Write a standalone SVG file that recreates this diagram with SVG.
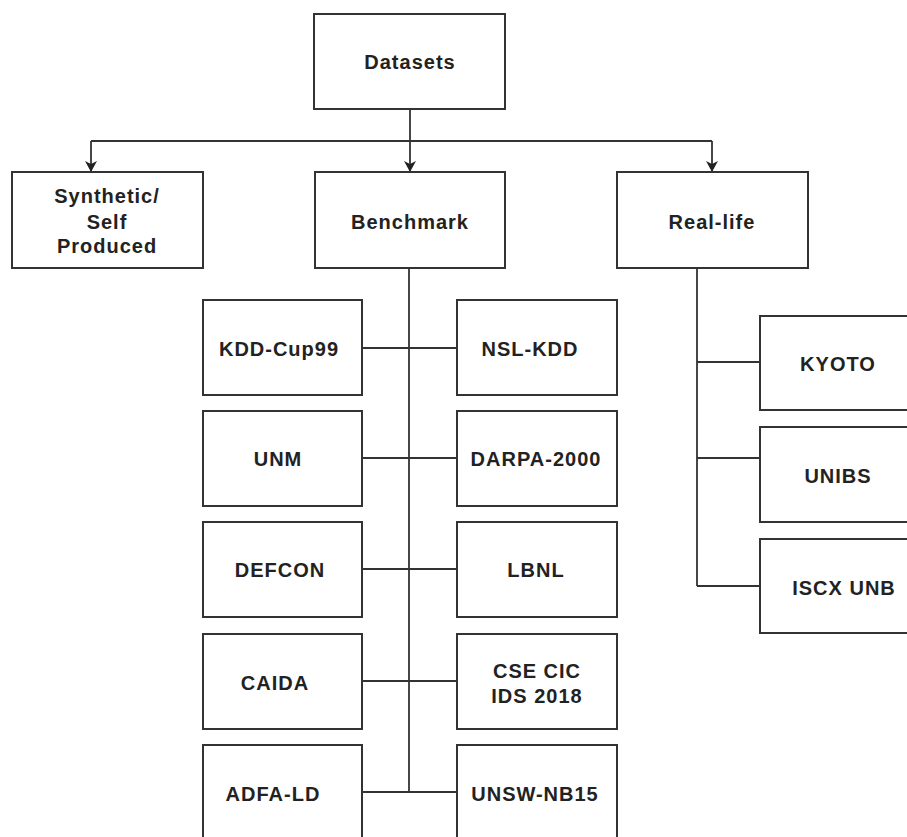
<svg xmlns="http://www.w3.org/2000/svg" width="907" height="837" viewBox="0 0 907 837">
<defs>
<marker id="arr" viewBox="0 0 11 12" refX="11" refY="6" markerWidth="11" markerHeight="12" markerUnits="userSpaceOnUse" orient="auto">
<path d="M0,0 L11,6 L0,12 L3,6 z" fill="#222"/>
</marker>
<style>
.box{fill:#fff;stroke:#333;stroke-width:2}
.t{font-family:"Liberation Sans",Arial,sans-serif;font-weight:bold;font-size:20px;letter-spacing:1px;fill:#222;text-anchor:middle}
.ln{fill:none;stroke:#333;stroke-width:1.8}
</style>
</defs>
<rect width="907" height="837" fill="#fff"/>
<g id="connectors">
<path class="ln" d="M410,109 V141"/>
<path class="ln" d="M91,141 H712"/>
<path class="ln" d="M91,141 V172" marker-end="url(#arr)"/>
<path class="ln" d="M410,141 V172" marker-end="url(#arr)"/>
<path class="ln" d="M712,141 V172" marker-end="url(#arr)"/>
<path class="ln" d="M409,268 V792"/>
<path class="ln" d="M362,348 H457"/>
<path class="ln" d="M362,458 H457"/>
<path class="ln" d="M362,569 H457"/>
<path class="ln" d="M362,681 H457"/>
<path class="ln" d="M362,792 H457"/>
<path class="ln" d="M697,268 V586"/>
<path class="ln" d="M697,362 H760"/>
<path class="ln" d="M697,458 H760"/>
<path class="ln" d="M697,586 H760"/>
</g>
<g id="datasets"><rect class="box" x="314" y="14" width="191" height="95"/><text class="t" x="410" y="69">Datasets</text></g>
<g id="synthetic"><rect class="box" x="12" y="172" width="191" height="96"/><text class="t" x="107" y="203">Synthetic/</text><text class="t" x="107" y="229">Self</text><text class="t" x="107" y="253">Produced</text></g>
<g id="benchmark"><rect class="box" x="315" y="172" width="190" height="96"/><text class="t" x="410" y="229">Benchmark</text></g>
<g id="reallife"><rect class="box" x="617" y="172" width="191" height="96"/><text class="t" x="712" y="229">Real-life</text></g>
<g id="kddcup99"><rect class="box" x="203" y="300" width="159" height="95"/><text class="t" x="279" y="356">KDD-Cup99</text></g>
<g id="nslkdd"><rect class="box" x="457" y="300" width="160" height="95"/><text class="t" x="530" y="356">NSL-KDD</text></g>
<g id="unm"><rect class="box" x="203" y="411" width="159" height="95"/><text class="t" x="278" y="466">UNM</text></g>
<g id="darpa2000"><rect class="box" x="457" y="411" width="160" height="95"/><text class="t" x="536" y="466">DARPA-2000</text></g>
<g id="defcon"><rect class="box" x="203" y="522" width="159" height="95"/><text class="t" x="280" y="577">DEFCON</text></g>
<g id="lbnl"><rect class="box" x="457" y="522" width="160" height="95"/><text class="t" x="536" y="577">LBNL</text></g>
<g id="caida"><rect class="box" x="203" y="634" width="159" height="95"/><text class="t" x="275" y="690">CAIDA</text></g>
<g id="csecic"><rect class="box" x="457" y="634" width="160" height="95"/><text class="t" x="537" y="678">CSE CIC</text><text class="t" x="537" y="703">IDS 2018</text></g>
<g id="adfald"><rect class="box" x="203" y="745" width="159" height="100"/><text class="t" x="273" y="801">ADFA-LD</text></g>
<g id="unswnb15"><rect class="box" x="457" y="745" width="160" height="100"/><text class="t" x="535" y="801">UNSW-NB15</text></g>
<g id="kyoto"><rect class="box" x="760" y="316" width="160" height="94"/><text class="t" x="838" y="371">KYOTO</text></g>
<g id="unibs"><rect class="box" x="760" y="427" width="160" height="95"/><text class="t" x="838" y="483">UNIBS</text></g>
<g id="iscxunb"><rect class="box" x="760" y="539" width="160" height="94"/><text class="t" x="844" y="595">ISCX UNB</text></g>
</svg>
